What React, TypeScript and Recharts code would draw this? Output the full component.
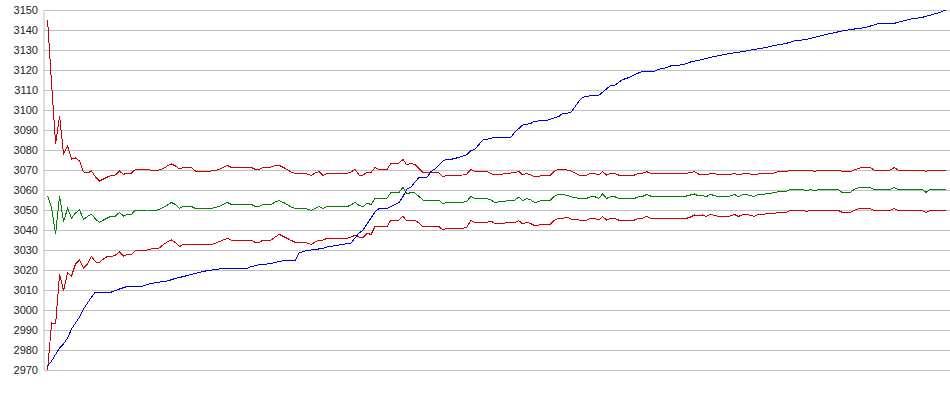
import React from "react";
import { LineChart, Line, XAxis, YAxis, CartesianGrid } from "recharts";

// Each series: [sample index, value] breakpoints.
const blueSeries: [number, number][] = [
  [0, 2972], [1, 2974.5], [2, 2977.8], [3, 2981], [4, 2983], [5, 2986], [6, 2990.5], [7, 2993.5],
  [8, 2996.5], [9, 3000.5], [10, 3003.5], [11, 3006.5], [12, 3009], [16, 3009], [17, 3009.7],
  [18, 3010.5], [20, 3011.8], [24, 3012], [25, 3012.8], [27, 3013.7], [30, 3014.5], [32, 3015.8],
  [34, 3016.7], [36, 3017.8], [38, 3018.8], [40, 3019.7], [44, 3020.8], [50, 3020.8], [51, 3021.7],
  [53, 3022.6], [56, 3023.2], [57, 3023.8], [59, 3024.6], [62, 3024.8], [63, 3028.5], [64, 3029.3],
  [66, 3030], [69, 3030.8], [70, 3031.5], [73, 3032.5], [76, 3033.5], [78, 3038.5], [79, 3040],
  [81, 3046], [82, 3049], [83, 3050.8], [85, 3050.8], [86, 3051.7], [88, 3053.8], [89, 3056.7],
  [90, 3060.5], [91, 3061.5], [93, 3066.3], [95, 3066.3], [96, 3069.2], [97, 3070.5], [99, 3074.5],
  [100, 3075.3], [101, 3075.3], [103, 3076.3], [105, 3077.6], [106, 3079.7], [107, 3080.3],
  [109, 3085], [110, 3085.3], [112, 3086.3], [116, 3086.3], [117, 3089], [119, 3092.5],
  [121, 3093.3], [122, 3094.4], [125, 3094.8], [126, 3095.5], [128, 3096.7], [129, 3098.3],
  [131, 3098.6], [133, 3104.2], [134, 3106.3], [136, 3107.2], [138, 3107.2], [141, 3112.3],
  [142, 3112.3], [144, 3115.2], [145, 3115.8], [148, 3118.5], [149, 3119.2], [152, 3119.3],
  [153, 3120.3], [155, 3121.2], [156, 3122], [159, 3122.6], [160, 3123.3], [161, 3124],
  [164, 3125.3], [166, 3126.3], [169, 3127.5], [171, 3128.3], [174, 3129.2], [177, 3130.3],
  [180, 3131.3], [182, 3132.3], [185, 3133.3], [187, 3134.5], [190, 3135.3], [192, 3136.2],
  [194, 3137.3], [196, 3138.2], [199, 3139.5], [201, 3140.2], [205, 3141.3], [208, 3143.2],
  [212, 3143.3], [214, 3144.4], [216, 3145.4], [219, 3146.3], [221, 3147.4], [223, 3148.5],
  [225, 3150],
];

const upperRedSeries: [number, number][] = [
  [0, 3145], [1, 3113], [2, 3083], [3, 3097], [4, 3078], [5, 3082], [6, 3075.5], [7, 3076],
  [8, 3074.5], [9, 3069], [10, 3068.5], [11, 3069.5], [12, 3066.5], [13, 3064.5], [14, 3065.5],
  [15, 3066.5], [16, 3067.3], [17, 3067.5], [18, 3069.5], [19, 3067.8], [20, 3068.5], [21, 3068.5],
  [22, 3070.3], [25, 3070.3], [26, 3069.8], [27, 3069.5], [28, 3070], [29, 3070.8], [30, 3072],
  [31, 3073], [32, 3072], [33, 3070.5], [34, 3071.3], [36, 3071.3], [37, 3069.5], [41, 3069.5],
  [42, 3069.8], [43, 3070.3], [44, 3071.3], [45, 3072.3], [46, 3071.3], [51, 3071.3], [52, 3070.3],
  [53, 3070.3], [54, 3071.3], [56, 3071.5], [57, 3072.3], [58, 3072.3], [59, 3071.3], [60, 3070.3],
  [61, 3069], [62, 3068.3], [65, 3068], [66, 3067.2], [67, 3068.5], [68, 3069.2], [69, 3067.3],
  [70, 3068.3], [75, 3068.3], [76, 3069], [77, 3070.3], [78, 3067.5], [79, 3067.5], [80, 3069],
  [81, 3068.8], [82, 3071.2], [83, 3070.3], [85, 3070.3], [86, 3073.4], [88, 3073.4], [89, 3075.3],
  [90, 3072.5], [91, 3073.4], [92, 3072.7], [93, 3070.7], [94, 3068.7], [98, 3068.5], [99, 3066.5],
  [100, 3067.3], [104, 3067.5], [105, 3068], [106, 3070.3], [107, 3069.2], [110, 3069.2],
  [111, 3068.3], [112, 3067.5], [117, 3068.7], [118, 3069.3], [119, 3067.5], [120, 3068.3],
  [121, 3067.5], [122, 3066.5], [123, 3066.8], [124, 3067.5], [126, 3067.5], [127, 3069.5],
  [128, 3070.3], [129, 3070.3], [130, 3070], [131, 3069.5], [132, 3068.5], [133, 3067.5],
  [135, 3067.5], [136, 3068.3], [137, 3068.3], [138, 3067.5], [139, 3069.2], [140, 3067.5],
  [141, 3068.3], [142, 3068.3], [143, 3067.5], [147, 3067.5], [148, 3068.3], [149, 3068.3],
  [150, 3069.2], [151, 3068.3], [160, 3068.3], [161, 3068.7], [162, 3069.2], [163, 3068],
  [164, 3068], [165, 3067.5], [166, 3068.3], [167, 3068.3], [168, 3067.5], [171, 3067.7],
  [172, 3068.3], [173, 3067.5], [174, 3068], [175, 3068.3], [176, 3068], [177, 3067.5],
  [178, 3068], [179, 3068.3], [182, 3068.5], [183, 3069.2], [185, 3069.2], [186, 3070],
  [189, 3070], [190, 3069.5], [191, 3070], [192, 3069.2], [193, 3070], [198, 3070],
  [199, 3069.2], [201, 3069.2], [202, 3070], [203, 3070.8], [204, 3071.2], [206, 3071.2],
  [207, 3070], [211, 3070], [212, 3071.2], [213, 3070], [219, 3070], [220, 3069.3], [221, 3070],
  [225, 3070],
];

const greenSeries: [number, number][] = [
  [0, 3057], [1, 3051], [2, 3038], [3, 3057], [4, 3044.2], [5, 3050.8], [6, 3046], [7, 3048.5],
  [8, 3050], [9, 3045.3], [10, 3046.8], [11, 3047.8], [12, 3045.5], [13, 3043.8], [14, 3045],
  [15, 3046], [16, 3047], [17, 3047], [18, 3048.8], [19, 3047], [20, 3047.8], [21, 3047.8],
  [22, 3050], [25, 3050], [26, 3049.8], [27, 3049.8], [28, 3050.3], [29, 3051.3], [30, 3052.5],
  [31, 3053.8], [32, 3052.8], [33, 3050.8], [34, 3051.8], [36, 3051.8], [37, 3050.8], [41, 3050.8],
  [42, 3051.3], [43, 3051.8], [44, 3052.8], [45, 3053.8], [46, 3052.8], [51, 3052.8], [52, 3051.8],
  [53, 3051.8], [54, 3052.8], [56, 3052.8], [57, 3054], [58, 3054.7], [59, 3053.8], [60, 3052.8],
  [61, 3051.5], [62, 3050.8], [65, 3050.5], [66, 3049.7], [67, 3050.8], [68, 3051.7], [69, 3050.7],
  [70, 3051.7], [75, 3051.7], [76, 3052.5], [77, 3053.8], [78, 3052.3], [79, 3051.7], [80, 3053.3],
  [81, 3052.8], [82, 3055.8], [85, 3055.8], [86, 3058.8], [88, 3058.8], [89, 3061.3], [90, 3058],
  [91, 3058.8], [92, 3058.5], [93, 3056.8], [94, 3055], [98, 3055], [99, 3053], [100, 3053.8],
  [104, 3053.8], [105, 3054.5], [106, 3056.7], [107, 3055.7], [110, 3055.7], [111, 3055],
  [112, 3053.8], [117, 3055], [118, 3056.5], [119, 3054.7], [120, 3055.7], [121, 3055],
  [122, 3053.7], [123, 3054.2], [124, 3055], [126, 3055], [127, 3057], [128, 3057.8], [129, 3057.8],
  [130, 3057.3], [131, 3056.7], [132, 3056.2], [133, 3055.8], [135, 3055.8], [136, 3056.7],
  [137, 3056.7], [138, 3055.8], [139, 3058], [140, 3055.8], [141, 3056.7], [142, 3056.7],
  [143, 3055.8], [147, 3055.8], [148, 3056.7], [149, 3056.7], [150, 3057.8], [151, 3057],
  [160, 3057], [161, 3057.5], [162, 3058], [163, 3057], [164, 3057.2], [165, 3056.7], [166, 3057.8],
  [167, 3057.2], [168, 3056.7], [171, 3057], [172, 3057.8], [173, 3056.7], [174, 3057.5],
  [175, 3057.8], [176, 3057.2], [177, 3056.8], [178, 3057.8], [179, 3057.8], [182, 3058.7],
  [183, 3059.2], [185, 3059.2], [186, 3060.3], [189, 3060.3], [190, 3059.5], [191, 3060.3],
  [192, 3059.5], [193, 3060.3], [198, 3060.3], [199, 3058.8], [201, 3058.8], [202, 3060.3],
  [203, 3061], [204, 3061.3], [206, 3061.3], [207, 3060.3], [211, 3060.3], [212, 3061.3],
  [213, 3060.3], [219, 3060.3], [220, 3058.8], [221, 3060.3], [225, 3060.3],
];

const lowerRedSeries: [number, number][] = [
  [0, 2970], [1, 2993.5], [2, 2993], [3, 3018], [4, 3009.6], [5, 3018.5], [6, 3017], [7, 3023],
  [8, 3025], [9, 3021], [10, 3023], [11, 3026.8], [12, 3024], [13, 3023.8], [14, 3025.5],
  [15, 3026.8], [16, 3026.8], [17, 3027.5], [18, 3029], [19, 3027], [20, 3027.8], [21, 3027.8],
  [22, 3029.8], [25, 3030], [26, 3030.5], [27, 3030.8], [28, 3031], [29, 3032.8], [30, 3034],
  [31, 3035], [32, 3033.7], [33, 3031.7], [34, 3032.8], [41, 3032.8], [42, 3033.3], [43, 3034.2],
  [44, 3035], [45, 3035.8], [46, 3035], [51, 3035], [52, 3033.8], [53, 3033.8], [54, 3035],
  [56, 3035], [57, 3036.5], [58, 3037.8], [59, 3036.8], [60, 3035.8], [61, 3034.8], [62, 3033.8],
  [65, 3033.5], [66, 3032.8], [67, 3034], [68, 3035], [69, 3035], [70, 3035.8], [75, 3035.8],
  [76, 3036.5], [77, 3037.3], [78, 3036.5], [79, 3036.3], [80, 3038.3], [81, 3037.8], [82, 3041.7],
  [85, 3041.7], [86, 3045], [88, 3045], [89, 3046.8], [90, 3044.5], [91, 3045], [92, 3045],
  [93, 3043.5], [94, 3041.7], [98, 3041.7], [99, 3040], [100, 3040.8], [104, 3040.8], [105, 3041.5],
  [106, 3044.7], [107, 3043.8], [110, 3043.8], [111, 3044.5], [112, 3043.2], [117, 3043.8],
  [118, 3044.7], [119, 3043], [120, 3043.8], [121, 3043.2], [122, 3042.2], [123, 3042.5],
  [124, 3043], [126, 3043], [127, 3045], [128, 3045.8], [129, 3045.8], [130, 3046.5], [131, 3045.5],
  [132, 3045.2], [133, 3045], [135, 3045], [136, 3045.8], [137, 3045.8], [138, 3045], [139, 3046.7],
  [140, 3045], [141, 3045.8], [142, 3045.8], [143, 3045], [147, 3045], [148, 3045.8], [149, 3045.8],
  [150, 3046.8], [151, 3045.8], [160, 3045.8], [161, 3046.5], [162, 3047.5], [163, 3047.3],
  [164, 3047.5], [165, 3046.8], [166, 3047.8], [167, 3047.3], [168, 3046.8], [171, 3047],
  [172, 3047.8], [173, 3046.8], [174, 3047.5], [175, 3047.8], [176, 3047.3], [177, 3046.8],
  [178, 3047.8], [182, 3048.3], [183, 3048.8], [185, 3048.8], [186, 3049.8], [189, 3049.8],
  [190, 3049.3], [191, 3049.8], [198, 3049.8], [199, 3048.8], [201, 3048.8], [202, 3049.8],
  [203, 3050.5], [204, 3050.8], [206, 3050.8], [207, 3049.8], [211, 3049.8], [212, 3050.8],
  [213, 3049.8], [219, 3049.8], [220, 3048.8], [221, 3049.8], [225, 3049.8],
];

const yTicks: number[] = [
  2970, 2980, 2990, 3000, 3010, 3020, 3030, 3040, 3050, 3060,
  3070, 3080, 3090, 3100, 3110, 3120, 3130, 3140, 3150,
];

const toRows = (s: [number, number][]) => s.map(([x, y]) => ({ x, y }));

export default function App() {
  return (
    <div style={{ position: "absolute", left: 0, top: 0, width: 950, height: 395, background: "#fff" }}>
      <LineChart width={950} height={395} margin={{ top: 10, right: 0, bottom: 25, left: 0 }}>
        <CartesianGrid vertical={false} stroke="#c0c0c0" shapeRendering="crispEdges" />
        <XAxis type="number" dataKey="x" domain={[-0.9, 226]} hide allowDataOverflow />
        <YAxis
          type="number"
          domain={[2970, 3150]}
          ticks={yTicks}
          interval={0}
          width={44}
          axisLine={{ stroke: "#c0c0c0" }}
          tickLine={false}
          tickSize={5}
          tickMargin={1}
          tick={{ fill: "#222", fontSize: 11, fontFamily: "'Liberation Sans', Arial, sans-serif" }}
        />
        <Line data={toRows(greenSeries)} dataKey="y" type="linear" stroke="#008000" strokeWidth={1}
          dot={false} activeDot={false} isAnimationActive={false} shapeRendering="crispEdges" />
        <Line data={toRows(lowerRedSeries)} dataKey="y" type="linear" stroke="#cc0000" strokeWidth={1}
          dot={false} activeDot={false} isAnimationActive={false} shapeRendering="crispEdges" />
        <Line data={toRows(upperRedSeries)} dataKey="y" type="linear" stroke="#cc0000" strokeWidth={1}
          dot={false} activeDot={false} isAnimationActive={false} shapeRendering="crispEdges" />
        <Line data={toRows(blueSeries)} dataKey="y" type="linear" stroke="#0000cc" strokeWidth={1}
          dot={false} activeDot={false} isAnimationActive={false} shapeRendering="crispEdges" />
      </LineChart>
    </div>
  );
}
